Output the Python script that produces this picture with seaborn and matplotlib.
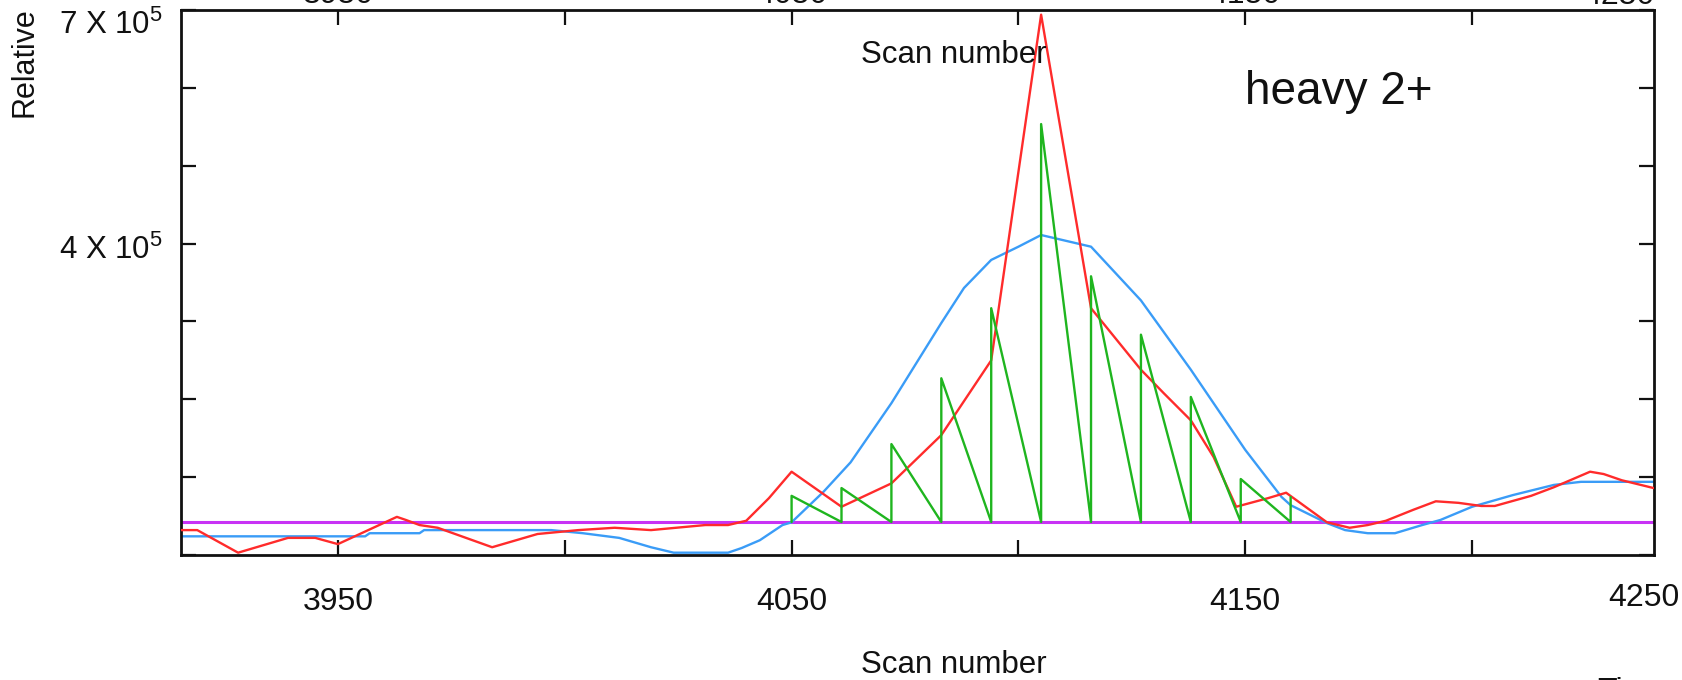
"""
Extracted-ion chromatogram, heavy 2+ channel, scan 3915-4240.
Raw trace (red), smoothed envelope (blue), per-scan MS2 triggers (green),
noise baseline (purple).
"""
import matplotlib
matplotlib.use("Agg")
import matplotlib.pyplot as plt
import matplotlib.transforms as mtransforms
import seaborn as sns

# ---- data ---------------------------------------------------------------
red_scan = [3915, 3919, 3928, 3939, 3945, 3950, 3963, 3965, 3968, 3972,
            3984, 3994, 4003, 4011, 4019, 4031, 4036, 4040, 4045, 4050,
            4061, 4072, 4083, 4094, 4105, 4116, 4127, 4132, 4138, 4143,
            4148, 4155, 4159, 4168, 4173, 4177, 4181, 4187, 4192, 4197,
            4202, 4205, 4213, 4218, 4226, 4229, 4233, 4240]
red_int = [32000, 32000, 3000, 22000, 22000, 14000, 49000, 45000, 38500, 35000,
           10000, 27000, 32000, 35000, 32000, 38500, 38500, 44000, 73000, 107000,
           62000, 92000, 154000, 250000, 694000, 317000, 238000, 208000, 173000, 126000,
           62000, 73000, 80000, 42000, 35000, 38500, 44000, 58000, 69000, 67000,
           63000, 63000, 76000, 87000, 107000, 104000, 96000, 86000]

blue_scan = [3915, 3956, 3957, 3968, 3969, 3997, 4004, 4012, 4019, 4024,
             4036, 4039, 4043, 4048, 4050, 4057, 4063, 4072, 4083, 4088,
             4094, 4100, 4105, 4116, 4127, 4138, 4150, 4158, 4160, 4168,
             4172, 4177, 4183, 4189, 4193, 4200, 4209, 4218, 4224, 4240]
blue_int = [24000, 24000, 28000, 28000, 32000, 32000, 28000, 22000, 10000, 3000,
            3000, 9000, 19000, 38500, 42000, 81000, 119000, 195000, 298000, 343000,
            379000, 396000, 411000, 396000, 327000, 238000, 135000, 74500, 64000, 41000,
            32000, 28000, 28000, 38500, 45000, 62000, 77000, 90000, 94000, 94000]

green_scan = [4050, 4061, 4072, 4083, 4094, 4105, 4116, 4127, 4138, 4149, 4160]
green_peak = [76000, 86000, 142500, 227000, 317000, 553500, 358000, 283000,
              203000, 97600, 74500]

baseline = 42400

x_ticks = [3950, 4000, 4050, 4100, 4150, 4200]
x_labels = ["3950", "", "4050", "", "4150", ""]
y_ticks = [0, 100000, 200000, 300000, 400000, 500000, 600000, 700000]
y_labels = ["", "", "", "", r"4 X 10$^5$", "", "", r"7 X 10$^5$"]

# ---- style ----------------------------------------------------------------
sns.set_style("ticks")
INK = "#111111"
plt.rcParams["font.family"] = ["Liberation Sans", "DejaVu Sans"]
plt.rcParams["mathtext.fontset"] = "custom"
plt.rcParams["mathtext.rm"] = "Liberation Sans"
plt.rcParams["mathtext.it"] = "Liberation Sans:italic"
plt.rcParams["mathtext.bf"] = "Liberation Sans:bold"
plt.rcParams["mathtext.default"] = "regular"
plt.rcParams["text.color"] = INK
plt.rcParams["axes.labelcolor"] = INK
plt.rcParams["xtick.color"] = INK
plt.rcParams["ytick.color"] = INK

fig = plt.figure(figsize=(16.83, 6.80), dpi=100, facecolor="white")
ax = fig.add_axes([0.1075, 0.1838, 0.8753, 0.8015])

# sawtooth path for the green trigger trace
gx, gy = [], []
for s, p in zip(green_scan, green_peak):
    gx += [s, s]
    gy += [baseline, p]

ax.axhline(baseline, color="#c832f5", lw=2.2, zorder=1)
sns.lineplot(x=blue_scan, y=blue_int, ax=ax, color="#3a9cf7", lw=1.7,
             estimator=None, sort=False, zorder=2)
sns.lineplot(x=red_scan, y=red_int, ax=ax, color="#ff2b2b", lw=1.7,
             estimator=None, sort=False, zorder=3)
sns.lineplot(x=gx, y=gy, ax=ax, color="#1fb51f", lw=1.7,
             estimator=None, sort=False, zorder=4)

ax.set_xlim(3915.4, 4240.1)
ax.set_ylim(0, 700000)
ax.set_xticks(x_ticks, x_labels)
ax.set_yticks(y_ticks, y_labels)
ax.set_ylabel("")

for sp in ax.spines.values():
    sp.set_color(INK)
    sp.set_linewidth(2.0)

ax.tick_params(axis="both", direction="in", length=10.8, width=1.6,
               color=INK, top=True, right=True)
ax.tick_params(axis="x", labelsize=23, pad=23)
ax.tick_params(axis="y", labelsize=22.5, pad=13)

# nudge the y labels down a little, as in the original
ylabs = ax.get_yticklabels()
for idx, dy in [(4, -3), (7, -12)]:
    off = mtransforms.ScaledTranslation(0, dy / 100, fig.dpi_scale_trans)
    ylabs[idx].set_transform(ylabs[idx].get_transform() + off)

# clipped duplicate labels along the top edge
sec = ax.secondary_xaxis("top")
sec.set_xticks(x_ticks, x_labels)
sec.tick_params(length=0, labelsize=23, pad=0, colors=INK)
for sp in sec.spines.values():
    sp.set_visible(False)

ax.set_xlabel("Scan number", fontsize=22.5)
ax.xaxis.set_label_coords(0.5248, -0.1743)

ax.text(0.5248, 0.917, "Scan number", transform=ax.transAxes,
        ha="center", va="center", fontsize=22.5)
ax.text(0.7223, 0.8275, "heavy 2+", transform=ax.transAxes,
        ha="left", va="baseline", fontsize=33)

fig.text(1680 / 1683, 1 - 598 / 680, "4250", ha="right", va="center", fontsize=23)
fig.text(1655 / 1683, 1 - 3.5 / 680, "4250", ha="right", va="baseline", fontsize=23)
fig.text(25 / 1683, 1 - 62 / 680, "Relative", rotation=90,
         ha="center", va="center", fontsize=22)
fig.text(1597 / 1683, 1 - 677 / 680, "Time", ha="left", va="top", fontsize=23)

fig.savefig("out.png", dpi=100, facecolor="white")
